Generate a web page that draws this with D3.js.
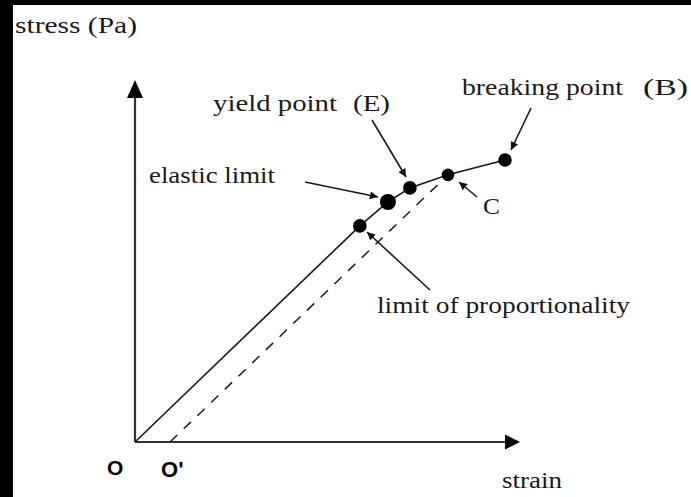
<!DOCTYPE html>
<html><head><meta charset="utf-8">
<script src="https://cdn.jsdelivr.net/npm/d3@7"></script>
<style>html,body{margin:0;padding:0;background:#fff;}svg{display:block;}</style>
</head><body>
<script>
// ---- data (strain, stress in arbitrary units) ----
const curveNames  = ["origin", "limit of proportionality", "elastic limit", "yield point (E)", "C", "breaking point (B)"];
const curveStrain = [0, 5.84, 6.57, 7.14, 8.13, 9.61];
const curveStress = [0, 5.97, 6.63, 7.02, 7.38, 7.79];
const markerKeys  = ["limit of proportionality", "elastic limit", "yield point (E)", "C", "breaking point (B)"];
const setStrain   = 0.91;          // O' : permanent set after unloading from C
const axisLabels  = ["stress (Pa)", "strain"];
const originLabels = ["O", "O'"];

// ---- layout ----
const W = 691, H = 497;
const svg = d3.select("body").append("svg").attr("width", W).attr("height", H);
svg.append("rect").attr("width", W).attr("height", H).attr("fill", "#fff");
svg.append("rect").attr("x", 0).attr("y", 0).attr("width", W).attr("height", 5).attr("fill", "#000");
svg.append("rect").attr("x", 0).attr("y", 0).attr("width", 13).attr("height", H).attr("fill", "#000");

const x = d3.scaleLinear().domain([0, 10]).range([135, 520]);
const y = d3.scaleLinear().domain([0, 10]).range([442, 80]);

const defs = svg.append("defs");
defs.append("marker").attr("id", "ah").attr("viewBox", "0 0 10 10").attr("refX", 10).attr("refY", 5)
  .attr("markerWidth", 10).attr("markerHeight", 8).attr("markerUnits", "userSpaceOnUse")
  .attr("orient", "auto").append("path").attr("d", "M0,0L10,5L0,10Z").attr("fill", "#111");

const serif = "'Liberation Serif','Times New Roman',serif";
const ink = "#1a1a1a";

// axes
svg.append("line").attr("x1", x(0)).attr("y1", y(0)).attr("x2", x(0)).attr("y2", y(10) + 16)
  .attr("stroke", "#333").attr("stroke-width", 2.2);
svg.append("path").attr("d", `M${x(0)},${y(10)}L${x(0)-8},${y(10)+18}L${x(0)+8},${y(10)+18}Z`).attr("fill", "#000");
svg.append("line").attr("x1", x(0)).attr("y1", y(0)).attr("x2", x(10) - 13).attr("y2", y(0))
  .attr("stroke", "#333").attr("stroke-width", 2.2);
svg.append("path").attr("d", `M${x(10)},${y(0)}L${x(10)-15},${y(0)-7.5}L${x(10)-15},${y(0)+7.5}Z`).attr("fill", "#000");

// dashed unloading line from C to O'
const cIdx = curveNames.indexOf("C");
svg.append("line").attr("x1", x(setStrain)).attr("y1", y(0))
  .attr("x2", x(curveStrain[cIdx])).attr("y2", y(curveStress[cIdx]))
  .attr("stroke", ink).attr("stroke-width", 1.5).attr("stroke-dasharray", "10,9");

// stress-strain curve
const pts = curveStrain.map((s, i) => [s, curveStress[i]]);
svg.append("path").datum(pts)
  .attr("d", d3.line().x(d => x(d[0])).y(d => y(d[1])))
  .attr("fill", "none").attr("stroke", ink).attr("stroke-width", 1.6);

// markers
const markerR = {"limit of proportionality": 6.8, "elastic limit": 8, "yield point (E)": 6.8, "C": 6.3, "breaking point (B)": 6.8};
markerKeys.forEach(k => {
  const i = curveNames.indexOf(k);
  svg.append("circle").attr("cx", x(curveStrain[i])).attr("cy", y(curveStress[i])).attr("r", markerR[k]).attr("fill", "#000");
});

// annotations: [text, textX, baselineY, width, arrowFrom, arrowTo]
const ann = [
  ["elastic limit", 149, 183, 126, [305, 182], [378, 197]],
  ["yield point", 213, 111, 124, [372, 120], [406, 177]],
  ["(E)", 353, 111, 37, null, null],
  ["breaking point", 462, 95, 161, [531, 108], [511, 150]],
  ["(B)", 643, 95, 45, null, null],
  ["C", 483, 214, 17, [477, 197], [459, 182]],
  ["limit of proportionality", 377, 313, 253, [430, 290], [367, 232]]
];
ann.forEach(a => {
  svg.append("text").attr("x", a[1]).attr("y", a[2]).attr("textLength", a[3]).attr("lengthAdjust", "spacingAndGlyphs")
    .attr("font-family", serif).attr("font-size", 24).attr("fill", ink).text(a[0]);
  if (a[4]) svg.append("line").attr("x1", a[4][0]).attr("y1", a[4][1]).attr("x2", a[5][0]).attr("y2", a[5][1])
    .attr("stroke", ink).attr("stroke-width", 1.6).attr("marker-end", "url(#ah)");
});

// axis labels
svg.append("text").attr("x", 15).attr("y", 33).attr("textLength", 122).attr("lengthAdjust", "spacingAndGlyphs")
  .attr("font-family", serif).attr("font-size", 24).attr("fill", ink).text(axisLabels[0]);
svg.append("text").attr("x", 502).attr("y", 488).attr("textLength", 60).attr("lengthAdjust", "spacingAndGlyphs")
  .attr("font-family", serif).attr("font-size", 24).attr("fill", ink).text(axisLabels[1]);

// origin labels
svg.append("text").attr("x", 107).attr("y", 475).attr("font-family", "'Liberation Sans',Arial,sans-serif")
  .attr("font-weight", "bold").attr("font-size", 21).attr("fill", "#000").text(originLabels[0]);
svg.append("text").attr("x", x(setStrain) - 9).attr("y", 477).attr("font-family", "'Liberation Sans',Arial,sans-serif")
  .attr("font-weight", "bold").attr("font-size", 22).attr("fill", "#000").text(originLabels[1]);
</script>
</body></html>
